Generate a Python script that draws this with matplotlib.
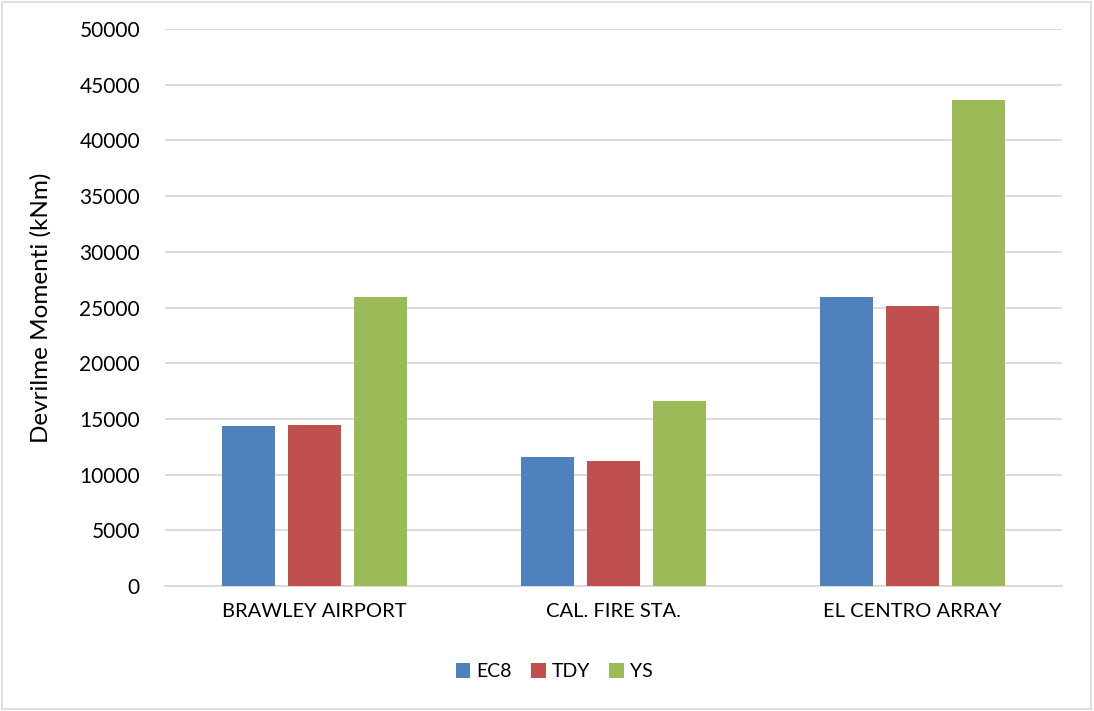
import numpy as np
import matplotlib.pyplot as plt
from matplotlib.patches import Rectangle

plt.rcParams['font.family'] = ['Lato', 'DejaVu Sans']

stations = ['BRAWLEY AIRPORT', 'CAL. FIRE STA.', 'EL CENTRO ARRAY']
series_names = ['EC8', 'TDY', 'YS']
ec8 = [14400, 11550, 25900]
tdy = [14450, 11200, 25100]
ys = [25950, 16650, 43650]
colors = ['#4F81BD', '#C0504D', '#9BBB59']

fig = plt.figure(figsize=(10.94, 7.11), dpi=100)
ax = fig.add_axes([0.1508, 0.1758, 0.8199, 0.7834])

x = np.arange(len(stations))
w = 0.177
step = 0.222
for i, (vals, name) in enumerate(zip([ec8, tdy, ys], series_names)):
    ax.bar(x + (i - 1) * step, vals, width=w, color=colors[i], label=name, zorder=3)

ax.set_xlim(-0.5, 2.5)
ax.set_ylim(0, 50000)
ax.set_yticks(np.arange(0, 50001, 5000))
ax.yaxis.grid(True, color='#D9D9D9', linewidth=1.3, zorder=0)
for s in ['top', 'right', 'left']:
    ax.spines[s].set_visible(False)
ax.spines['bottom'].set_color('#D9D9D9')
ax.spines['bottom'].set_linewidth(1.3)
ax.tick_params(axis='y', length=0, labelsize=15, colors='black', pad=18)
ax.tick_params(axis='x', length=0, labelsize=14.5, colors='black', pad=12)
ax.set_xticks(x)
ax.set_xticklabels(stations)
ax.set_ylabel('Devrilme Momenti (kNm)', fontsize=17.5, labelpad=20)

ax.legend(loc='center', bbox_to_anchor=(0.434, -0.154), ncol=3, frameon=False,
          fontsize=14, handlelength=0.75, handleheight=0.75, handletextpad=0.3,
          columnspacing=1.0)

fig.patches.append(Rectangle((0.002, 0.003), 0.995, 0.994, transform=fig.transFigure,
                             fill=False, edgecolor='#D9D9D9', linewidth=1.2))

fig.savefig('out.png', dpi=100)
